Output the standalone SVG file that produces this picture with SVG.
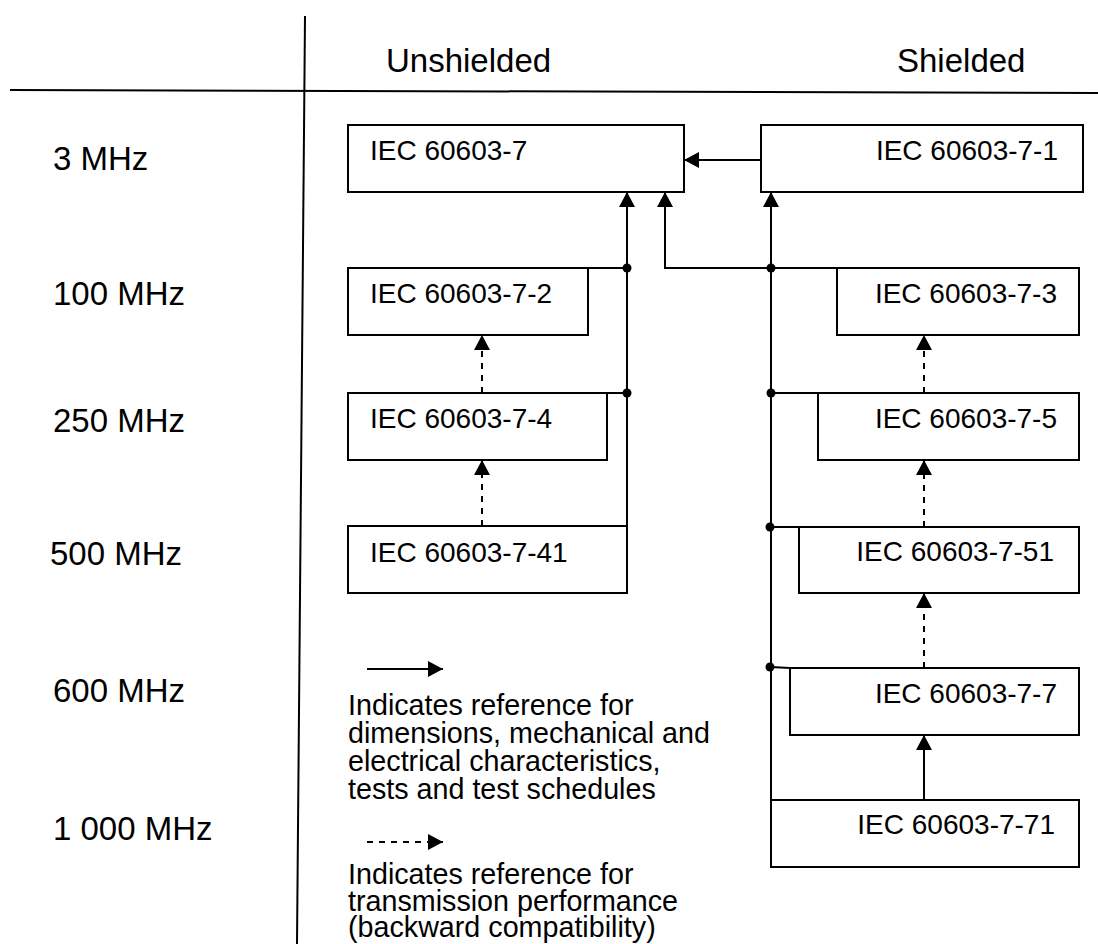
<svg xmlns="http://www.w3.org/2000/svg" width="1098" height="944" viewBox="0 0 1098 944">
<defs>
<marker id="ah" markerUnits="userSpaceOnUse" viewBox="0 0 15 16" markerWidth="15" markerHeight="16" refX="15" refY="8" orient="auto">
<path d="M0,0 L15,8 L0,16 z" fill="#000"/>
</marker>
<style>
text{font-family:"Liberation Sans",Arial,sans-serif;font-size:28px;fill:#000}
.big{font-size:33px}
.leg{font-size:28.7px}
.box{fill:#fff;stroke:#000;stroke-width:2}
.ln{fill:none;stroke:#000;stroke-width:2}
.ar{fill:none;stroke:#000;stroke-width:2;marker-end:url(#ah)}
.da{fill:none;stroke:#000;stroke-width:2;stroke-dasharray:6 6;marker-end:url(#ah)}
.dot{fill:#000}
.r{text-anchor:end}
</style>
</defs>
<rect width="1098" height="944" fill="#fff"/>
<g id="grid">
<line class="ln" x1="305" y1="16" x2="297" y2="944"/>
<line class="ln" x1="10" y1="90" x2="1098" y2="93"/>
<text class="big" x="386" y="72">Unshielded</text>
<text class="big" x="897" y="72">Shielded</text>
<text class="big" x="53" y="170">3 MHz</text>
<text class="big" x="53" y="305">100 MHz</text>
<text class="big" x="53" y="432">250 MHz</text>
<text class="big" x="50" y="565">500 MHz</text>
<text class="big" x="53" y="702">600 MHz</text>
<text class="big" x="53" y="840">1 000 MHz</text>
</g>
<g id="connectors">
<line class="ar" x1="760" y1="160" x2="684" y2="160"/>
<line class="ar" x1="627" y1="526" x2="627" y2="192"/>
<line class="ln" x1="588" y1="268" x2="627" y2="268"/>
<line class="ln" x1="607" y1="393" x2="627" y2="393"/>
<circle class="dot" cx="627" cy="268" r="4.5"/>
<circle class="dot" cx="627" cy="393" r="4.5"/>
<line class="ar" x1="771" y1="800" x2="771" y2="192"/>
<path class="ar" d="M837,268 H665 V192"/>
<line class="ln" x1="771" y1="393" x2="818" y2="393"/>
<line class="ln" x1="771" y1="527" x2="799" y2="527"/>
<line class="ln" x1="771" y1="667" x2="790" y2="668"/>
<circle class="dot" cx="771" cy="268" r="4.5"/>
<circle class="dot" cx="771" cy="393" r="4.5"/>
<circle class="dot" cx="770" cy="527" r="4.5"/>
<circle class="dot" cx="770" cy="667" r="4.5"/>
<line class="da" x1="482" y1="393" x2="482" y2="335"/>
<line class="da" x1="482" y1="526" x2="482" y2="460"/>
<line class="da" x1="924" y1="393" x2="924" y2="335"/>
<line class="da" x1="924" y1="527" x2="924" y2="460"/>
<line class="da" x1="924" y1="668" x2="924" y2="593"/>
<line class="ar" x1="924" y1="800" x2="924" y2="735"/>
</g>
<g id="n-7">
<rect class="box" x="348" y="125" width="336" height="67"/>
<text x="370" y="160">IEC 60603-7</text>
</g>
<g id="n-7-1">
<rect class="box" x="761" y="125" width="322" height="67"/>
<text class="r" x="1058" y="160">IEC 60603-7-1</text>
</g>
<g id="n-7-2">
<rect class="box" x="348" y="268" width="240" height="67"/>
<text x="370" y="303">IEC 60603-7-2</text>
</g>
<g id="n-7-3">
<rect class="box" x="837" y="268" width="242" height="67"/>
<text class="r" x="1057" y="303">IEC 60603-7-3</text>
</g>
<g id="n-7-4">
<rect class="box" x="348" y="393" width="259" height="67"/>
<text x="370" y="428">IEC 60603-7-4</text>
</g>
<g id="n-7-5">
<rect class="box" x="818" y="393" width="261" height="67"/>
<text class="r" x="1057" y="428">IEC 60603-7-5</text>
</g>
<g id="n-7-41">
<rect class="box" x="348" y="526" width="279" height="67"/>
<text x="370" y="562">IEC 60603-7-41</text>
</g>
<g id="n-7-51">
<rect class="box" x="799" y="527" width="280" height="66"/>
<text class="r" x="1054" y="561">IEC 60603-7-51</text>
</g>
<g id="n-7-7">
<rect class="box" x="790" y="668" width="289" height="67"/>
<text class="r" x="1057" y="703">IEC 60603-7-7</text>
</g>
<g id="n-7-71">
<rect class="box" x="771" y="800" width="308" height="67"/>
<text class="r" x="1055" y="834">IEC 60603-7-71</text>
</g>
<g id="legend">
<line class="ar" x1="367" y1="669" x2="443" y2="669"/>
<text class="leg" x="348" y="715">Indicates reference for</text>
<text class="leg" x="348" y="743">dimensions, mechanical and</text>
<text class="leg" x="348" y="771">electrical characteristics,</text>
<text class="leg" x="348" y="799">tests and test schedules</text>
<line class="da" x1="367" y1="842" x2="443" y2="842" stroke-dasharray="7 5"/>
<text class="leg" x="348" y="884">Indicates reference for</text>
<text class="leg" x="348" y="911">transmission performance</text>
<text class="leg" x="348" y="937">(backward compatibility)</text>
</g>
</svg>
